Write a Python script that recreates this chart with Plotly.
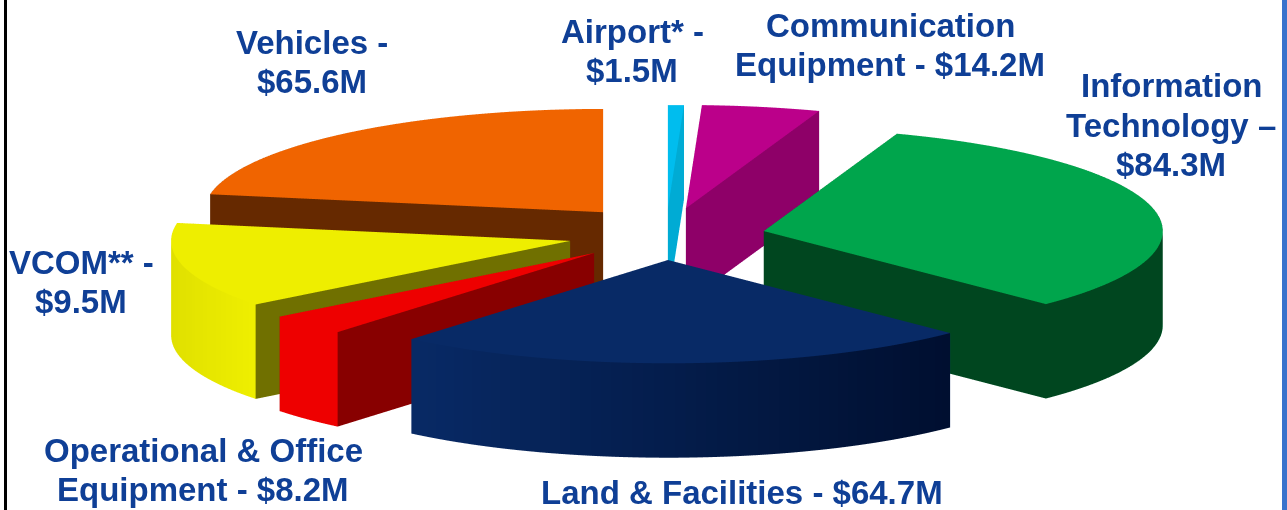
import math
import plotly.graph_objects as go

# Data
categories = ["Airport*", "Communication Equipment", "Information Technology",
              "Land & Facilities", "Operational & Office Equipment", "VCOM**", "Vehicles"]
values_musd = [1.5, 14.2, 84.3, 64.7, 8.2, 9.5, 65.6]
label_lines = [["Airport* -", "$1.5M"], ["Communication", "Equipment - $14.2M"],
               ["Information", "Technology –", "$84.3M"], ["Land & Facilities - $64.7M"],
               ["Operational & Office", "Equipment - $8.2M"], ["VCOM** -", "$9.5M"],
               ["Vehicles -", "$65.6M"]]
# The wedges as drawn in the picture do not follow the labelled values exactly
drawn_sweep_deg = [2.3, 17.2, 115.5, 85, 12, 48, 80]

# Styling and layout
top_colors = ["#00BDEE", "#BB008A", "#00A54C", "#082A66", "#EE0000", "#EEEE00", "#F06400"]
cut_colors = ["#00ABD4", "#8E0068", "#00461F", "#082A66", "#880000", "#707000", "#662900"]
side_left = ["#00ABD4", "#8E0068", "#00461F", "#082A66", "#EE0000", "#E0E000", "#662900"]
side_right = ["#00ABD4", "#8E0068", "#00461F", "#000F30", "#EE0000", "#EEEE00", "#662900"]
pull_x = [0, 18, 96, 0, -74, -98, -65]
pull_y = [200, 200, 112, 0, 27, 74, 185]
label_px = [(632, 51), (890, 45), (1171, 125), (742, 492), (203, 470), (81, 282), (312, 62)]
LINE_GAP = 39.5
RADIUS, THICK = 400, 98
ELEV = 15.0
VIEW = 800
EYE_DIST = 30
ASPECT = 6.26

def hex_rgb(c):
    return tuple(int(c[i:i + 2], 16) for i in (1, 3, 5))

def mix(a, b, t):
    ra, rb = hex_rgb(a), hex_rgb(b)
    return "rgb(%d,%d,%d)" % tuple(round(p + (q - p) * t) for p, q in zip(ra, rb))

xs, ys, zs, ii, jj, kk, fc = [], [], [], [], [], [], []

def add_pt(x, y, z):
    xs.append(x); ys.append(y); zs.append(z)
    return len(xs) - 1

def add_tri(a, b, c, color):
    ii.append(a); jj.append(b); kk.append(c); fc.append(color)

start = 0.0
for n, sweep in enumerate(drawn_sweep_deg):
    tx, ty = pull_x[n], pull_y[n]
    steps = max(2, int(sweep / 1.5))
    rim = []
    for s in range(steps + 1):
        a = math.radians(start + sweep * s / steps)
        rim.append((tx + RADIUS * math.sin(a), ty + RADIUS * math.cos(a)))
    rim_min = min(p[0] for p in rim)
    rim_span = max(max(p[0] for p in rim) - rim_min, 1)
    tip_t = add_pt(tx, ty, 0)
    tip_b = add_pt(tx, ty, -THICK)
    top = [add_pt(x, y, 0) for x, y in rim]
    bot = [add_pt(x, y, -THICK) for x, y in rim]
    for s in range(steps):
        add_tri(tip_t, top[s], top[s + 1], top_colors[n])
        add_tri(tip_b, bot[s], bot[s + 1], top_colors[n])
        t = (rim[s][0] - rim_min) / rim_span
        col = mix(side_left[n], side_right[n], t)
        add_tri(top[s], top[s + 1], bot[s], col)
        add_tri(top[s + 1], bot[s + 1], bot[s], col)
    for e in (0, steps):
        add_tri(tip_t, top[e], tip_b, cut_colors[n])
        add_tri(top[e], bot[e], tip_b, cut_colors[n])
    start += sweep

mesh = go.Mesh3d(x=xs, y=ys, z=zs, i=ii, j=jj, k=kk, facecolor=fc, flatshading=True,
                 lighting=dict(ambient=1, diffuse=0, specular=0, fresnel=0, roughness=1),
                 hoverinfo="skip", showscale=False)

fig = go.Figure(mesh)
cx = 643.5 - 668
cz = -THICK / 2
sin_e, cos_e = math.sin(math.radians(ELEV)), math.cos(math.radians(ELEV))
cy = (5 - cos_e * cz) / sin_e
hidden = dict(visible=False, showspikes=False)

annotations = []
for lines, (px, py) in zip(label_lines, label_px):
    for m, line in enumerate(lines):
        ly = py + (m - (len(lines) - 1) / 2) * LINE_GAP
        annotations.append(dict(
            text=line, x=px / 1287, y=1 - ly / 510, xref="paper", yref="paper",
            xanchor="center", yanchor="middle", showarrow=False, align="center",
            font=dict(family="Liberation Sans", size=33, color="#0F3F96", weight="bold")))

fig.update_layout(
    width=1287, height=510, margin=dict(l=0, r=0, t=0, b=0), paper_bgcolor="white",
    showlegend=False,
    scene=dict(
        domain=dict(x=[0, 1], y=[0, 1]),
        xaxis=dict(range=[cx - VIEW, cx + VIEW], **hidden),
        yaxis=dict(range=[cy - VIEW, cy + VIEW], **hidden),
        zaxis=dict(range=[cz - VIEW, cz + VIEW], **hidden),
        aspectmode="manual", aspectratio=dict(x=ASPECT, y=ASPECT, z=ASPECT),
        camera=dict(eye=dict(x=0, y=-cos_e * EYE_DIST, z=sin_e * EYE_DIST),
                    up=dict(x=0, y=0, z=1), center=dict(x=0, y=0, z=0),
                    projection=dict(type="orthographic")),
    ),
    annotations=annotations,
    shapes=[
        dict(type="rect", xref="paper", yref="paper", x0=4 / 1287, x1=7 / 1287, y0=0, y1=1,
             fillcolor="black", line_width=0),
        dict(type="rect", xref="paper", yref="paper", x0=1282 / 1287, x1=1, y0=0, y1=1,
             fillcolor="#3A72CC", line_width=0),
    ],
)
fig.write_html("out.html", config=dict(displayModeBar=False),
               post_script="document.body.style.margin='0';document.body.style.overflow='hidden';")
